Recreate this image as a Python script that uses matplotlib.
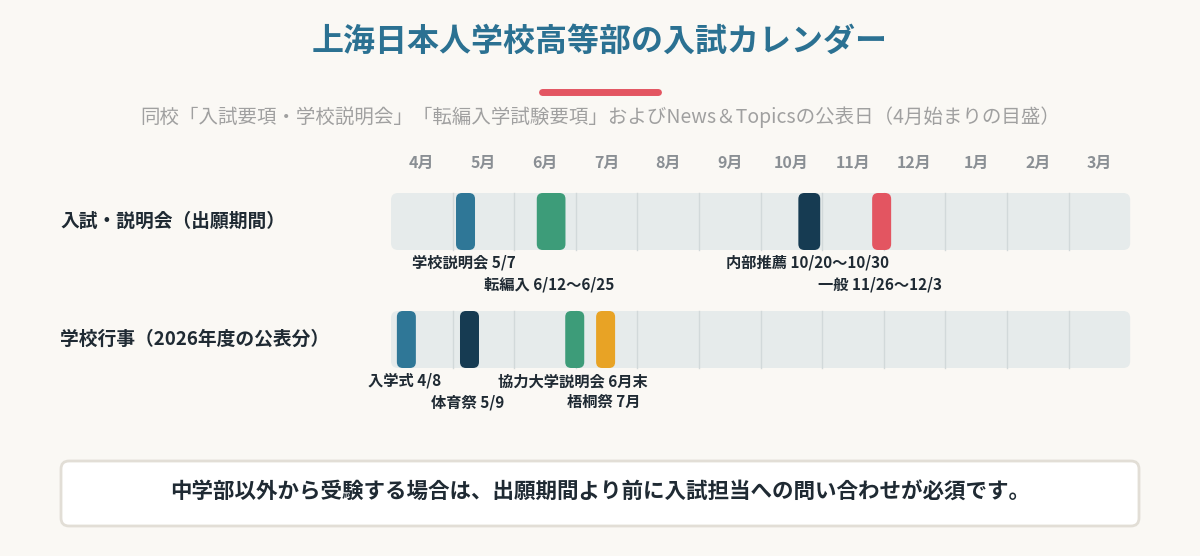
import matplotlib
matplotlib.use("Agg")
import matplotlib.pyplot as plt
from matplotlib.patches import FancyBboxPatch

plt.rcParams['font.family'] = ['Noto Sans CJK JP', 'DejaVu Sans']

TITLE = "上海日本人学校高等部の入試カレンダー"
SUBTITLE = "同校「入試要項・学校説明会」「転編入学試験要項」およびNews＆Topicsの公表日（4月始まりの目盛）"
MONTHS = ["4月", "5月", "6月", "7月", "8月", "9月", "10月", "11月", "12月", "1月", "2月", "3月"]
MONTH_NUMS = [4, 5, 6, 7, 8, 9, 10, 11, 12, 1, 2, 3]
MONTH_DAYS = [30, 31, 30, 31, 31, 30, 31, 30, 31, 31, 28, 31]
ROWS = ["入試・説明会（出願期間）", "学校行事（2026年度の公表分）"]

# (row, label, start (month, day), end (month, day), color)
EV_ROW = [0, 0, 0, 0, 1, 1, 1, 1]
EV_LABEL = ["学校説明会 5/7", "転編入 6/12〜6/25", "内部推薦 10/20〜10/30", "一般 11/26〜12/3",
            "入学式 4/8", "体育祭 5/9", "協力大学説明会 6月末", "梧桐祭 7月"]
EV_START = [(5, 7), (6, 12), (10, 20), (11, 26), (4, 8), (5, 9), (6, 30), (7, 13)]
EV_END = [(5, 7), (6, 25), (10, 30), (12, 3), (4, 8), (5, 9), (6, 30), (7, 18)]
EV_COLOR = ["#2f7797", "#3d9c79", "#163b52", "#e35561",
            "#2f7797", "#163b52", "#3d9c79", "#e8a325"]
FOOTER = "中学部以外から受験する場合は、出願期間より前に入試担当への問い合わせが必須です。"

W, H = 1200, 556
X0, COLW = 391, 61.6
ROW_Y = [193, 311]
TRACK_H = 57


def month_pos(md):
    m, d = md
    i = MONTH_NUMS.index(m)
    return i + (d - 1) / MONTH_DAYS[i]


def px(pos):
    return X0 + pos * COLW


fig = plt.figure(figsize=(W / 100, H / 100), dpi=100)
fig.patch.set_facecolor("#faf8f4")
ax = fig.add_axes([0, 0, 1, 1])
ax.set_xlim(0, W)
ax.set_ylim(H, 0)
ax.axis("off")

ax.text(600, 42, TITLE, ha="center", va="center", fontsize=23, fontweight="bold", color="#2b7192")
ax.plot([542, 658], [92, 92], color="#e35561", lw=5, solid_capstyle="round")
ax.text(600, 117, SUBTITLE, ha="center", va="center", fontsize=14, color="#a0a0a0")

for i, m in enumerate(MONTHS):
    ax.text(px(i + 0.5), 163, m, ha="center", va="center", fontsize=11.5,
            fontweight="bold", color="#8a8f94")

for r, (label, y) in enumerate(zip(ROWS, ROW_Y)):
    ax.add_patch(FancyBboxPatch((X0, y), 12 * COLW, TRACK_H,
                                boxstyle="round,pad=0,rounding_size=7",
                                facecolor="#e6ebeb", edgecolor="none", zorder=1))
    for i in range(1, 12):
        ax.plot([px(i), px(i)], [y, y + TRACK_H], color="#d2d9da", lw=1, zorder=2)
    ax.text(60, y + TRACK_H / 2, label, ha="left", va="center", fontsize=13.5,
            fontweight="bold", color="#1f2a33")

level = {0: 0, 1: 0}
for row, lab, s, e, c in zip(EV_ROW, EV_LABEL, EV_START, EV_END, EV_COLOR):
    a, b = px(month_pos(s)), px(month_pos(e) + 1 / 31)
    if b - a < 19:
        mid = (a + b) / 2
        a, b = mid - 9.5, mid + 9.5
    y = ROW_Y[row]
    ax.add_patch(FancyBboxPatch((a, y), b - a, TRACK_H,
                                boxstyle="round,pad=0,rounding_size=6",
                                facecolor=c, edgecolor="none", zorder=3))
    ly = y + TRACK_H + 13 + 21 * (level[row] % 2)
    level[row] += 1
    ax.text((a + b) / 2 - 2, ly, lab, ha="center", va="center", fontsize=11,
            fontweight="bold", color="#1f2a33")

ax.add_patch(FancyBboxPatch((61, 461), 1078, 65, boxstyle="round,pad=0,rounding_size=8",
                            facecolor="white", edgecolor="#e2ded6", lw=2, zorder=1))
ax.text(600, 492, FOOTER, ha="center", va="center", fontsize=15.5, fontweight="bold",
        color="#1f2a33")

fig.savefig("out.png", dpi=100, facecolor=fig.get_facecolor())
